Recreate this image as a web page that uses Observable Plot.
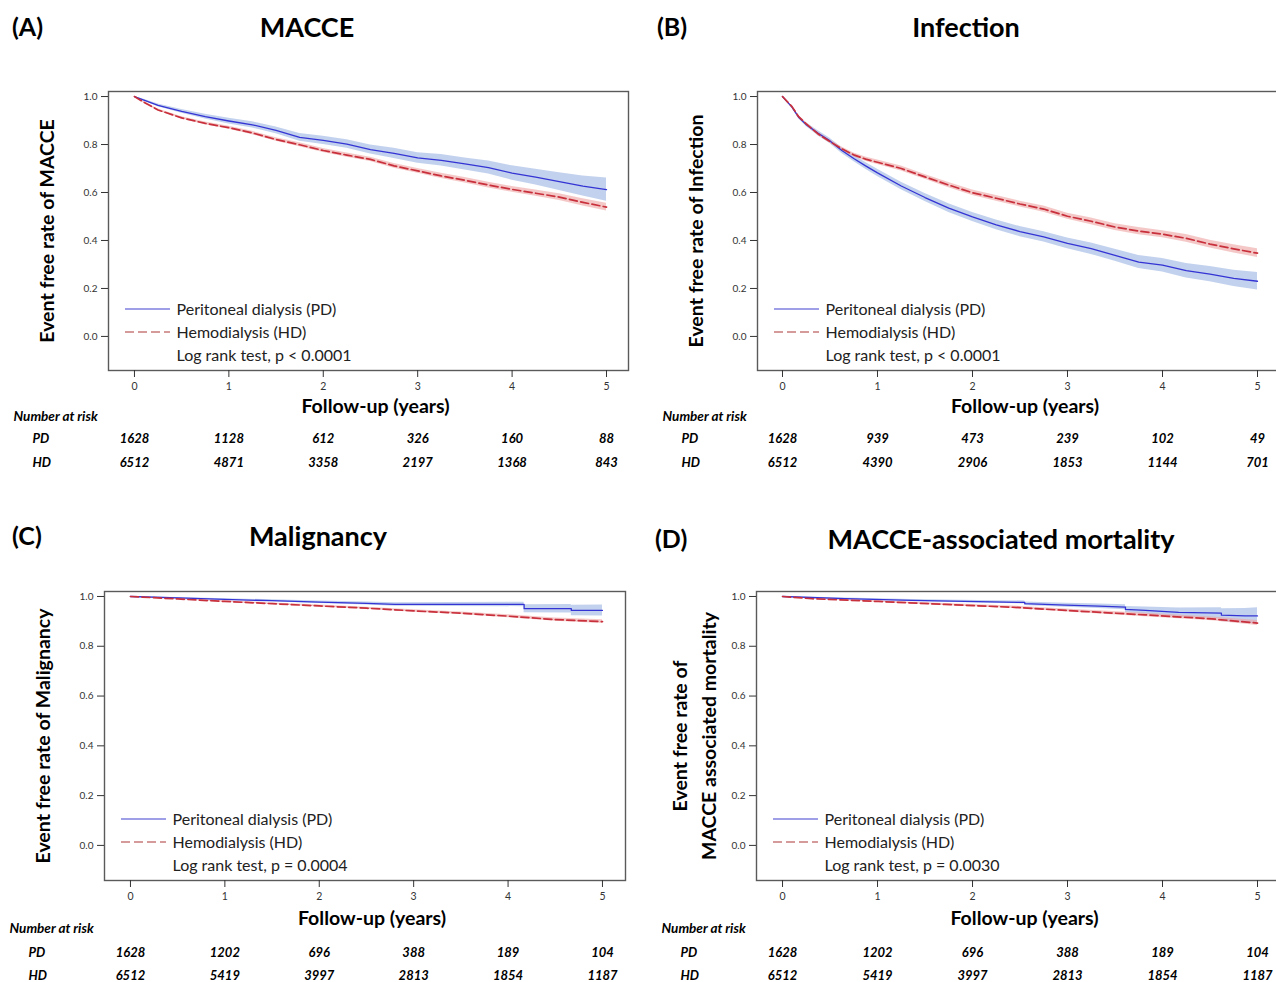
<!DOCTYPE html>
<html><head><meta charset="utf-8">
<script src="https://cdn.jsdelivr.net/npm/d3@7"></script>
<script src="https://cdn.jsdelivr.net/npm/@observablehq/plot@0.6"></script>
<style>
html,body{margin:0;padding:0;background:#fff;overflow:hidden;}
#root{position:relative;width:1276px;height:982px;overflow:hidden;font-family:Lato,"Open Sans",sans-serif;color:#000;}
.panel{position:absolute;}
.panel svg{max-width:none !important;display:block;}
.tag{position:absolute;font-weight:bold;font-size:25px;line-height:1;transform:translateY(-50%);white-space:nowrap;}
.title{position:absolute;font-weight:bold;font-size:27px;line-height:1;transform:translate(-50%,-50%);white-space:nowrap;}
</style></head><body><div id="root"></div>
<script>
// ---------- shared categories / ticks ----------
const groups = ["PD", "HD"];
const legendLabels = ["Peritoneal dialysis (PD)", "Hemodialysis (HD)"];
const xTicks = [0, 1, 2, 3, 4, 5];
const yTicks = [0, 0.2, 0.4, 0.6, 0.8, 1.0];
const riskYears = [0, 1, 2, 3, 4, 5];

// ---------- (A) MACCE ----------
const aTime = [0, 0.1, 0.25, 0.5, 0.75, 1.0, 1.25, 1.5, 1.75, 2.0, 2.25, 2.5, 2.75, 3.0, 3.25, 3.5, 3.75, 4.0, 4.25, 4.5, 4.75, 5.0];
const aPD   = [1.0, 0.985, 0.963, 0.938, 0.916, 0.898, 0.882, 0.859, 0.830, 0.817, 0.802, 0.779, 0.763, 0.744, 0.734, 0.719, 0.704, 0.681, 0.664, 0.645, 0.627, 0.612];
const aPDlo = [1.0, 0.981, 0.957, 0.930, 0.906, 0.886, 0.869, 0.845, 0.814, 0.800, 0.784, 0.760, 0.742, 0.722, 0.710, 0.694, 0.677, 0.651, 0.631, 0.608, 0.585, 0.564];
const aPDhi = [1.0, 0.989, 0.969, 0.946, 0.926, 0.910, 0.895, 0.873, 0.846, 0.834, 0.820, 0.798, 0.784, 0.766, 0.758, 0.744, 0.731, 0.711, 0.697, 0.682, 0.669, 0.660];
const aHD   = [1.0, 0.976, 0.944, 0.911, 0.888, 0.870, 0.848, 0.821, 0.799, 0.775, 0.756, 0.738, 0.711, 0.690, 0.669, 0.651, 0.631, 0.613, 0.597, 0.581, 0.559, 0.539];
const aHDlo = [1.0, 0.973, 0.940, 0.906, 0.882, 0.864, 0.841, 0.814, 0.791, 0.767, 0.747, 0.729, 0.701, 0.680, 0.658, 0.640, 0.619, 0.601, 0.584, 0.567, 0.544, 0.523];
const aHDhi = [1.0, 0.979, 0.948, 0.916, 0.894, 0.876, 0.855, 0.828, 0.807, 0.783, 0.765, 0.747, 0.721, 0.700, 0.680, 0.662, 0.643, 0.625, 0.610, 0.595, 0.574, 0.555];
const aRiskPD = [1628, 1128, 612, 326, 160, 88];
const aRiskHD = [6512, 4871, 3358, 2197, 1368, 843];

// ---------- (B) Infection ----------
const bTime = [0, 0.1, 0.17, 0.25, 0.375, 0.5, 0.625, 0.75, 0.875, 1.0, 1.25, 1.5, 1.75, 2.0, 2.25, 2.5, 2.75, 3.0, 3.25, 3.5, 3.75, 4.0, 4.25, 4.5, 4.75, 5.0];
const bPD   = [1.0, 0.956, 0.914, 0.883, 0.847, 0.815, 0.775, 0.742, 0.711, 0.682, 0.627, 0.579, 0.535, 0.498, 0.465, 0.437, 0.415, 0.388, 0.366, 0.338, 0.310, 0.297, 0.274, 0.260, 0.242, 0.230];
const bPDlo = [1.0, 0.951, 0.907, 0.875, 0.837, 0.804, 0.763, 0.729, 0.697, 0.667, 0.611, 0.562, 0.517, 0.479, 0.445, 0.416, 0.394, 0.366, 0.342, 0.313, 0.283, 0.269, 0.244, 0.228, 0.208, 0.194];
const bPDhi = [1.0, 0.961, 0.921, 0.891, 0.857, 0.826, 0.787, 0.755, 0.725, 0.697, 0.643, 0.596, 0.553, 0.517, 0.485, 0.458, 0.436, 0.410, 0.390, 0.363, 0.337, 0.325, 0.304, 0.292, 0.276, 0.266];
const bHD   = [1.0, 0.958, 0.916, 0.886, 0.844, 0.812, 0.782, 0.757, 0.739, 0.726, 0.700, 0.665, 0.631, 0.599, 0.576, 0.552, 0.531, 0.501, 0.480, 0.456, 0.439, 0.426, 0.409, 0.385, 0.365, 0.347];
const bHDlo = [1.0, 0.954, 0.911, 0.880, 0.837, 0.805, 0.774, 0.749, 0.730, 0.717, 0.690, 0.655, 0.620, 0.588, 0.564, 0.540, 0.518, 0.488, 0.466, 0.442, 0.424, 0.411, 0.393, 0.369, 0.348, 0.329];
const bHDhi = [1.0, 0.962, 0.921, 0.892, 0.851, 0.819, 0.790, 0.765, 0.748, 0.735, 0.710, 0.675, 0.642, 0.610, 0.588, 0.564, 0.544, 0.514, 0.494, 0.470, 0.454, 0.441, 0.425, 0.401, 0.382, 0.365];
const bRiskPD = [1628, 939, 473, 239, 102, 49];
const bRiskHD = [6512, 4390, 2906, 1853, 1144, 701];

// ---------- (C) Malignancy ----------
const cPDTime = [0, 0.5, 1.0, 1.5, 2.0, 2.5, 2.8, 4.17, 4.17, 4.67, 4.67, 5.0];
const cPD   = [1.0, 0.994, 0.988, 0.983, 0.977, 0.972, 0.968, 0.968, 0.951, 0.951, 0.944, 0.944];
const cPDlo = [1.0, 0.992, 0.985, 0.979, 0.972, 0.966, 0.961, 0.959, 0.935, 0.934, 0.923, 0.922];
const cPDhi = [1.0, 0.996, 0.991, 0.987, 0.982, 0.978, 0.975, 0.977, 0.967, 0.968, 0.965, 0.966];
const cHDTime = [0, 0.5, 1.0, 1.5, 2.0, 2.5, 3.0, 3.5, 4.0, 4.5, 5.0];
const cHD   = [1.0, 0.990, 0.980, 0.971, 0.962, 0.953, 0.942, 0.933, 0.921, 0.907, 0.899];
const cHDlo = [1.0, 0.988, 0.977, 0.968, 0.958, 0.949, 0.937, 0.928, 0.915, 0.900, 0.891];
const cHDhi = [1.0, 0.992, 0.983, 0.974, 0.966, 0.957, 0.947, 0.938, 0.927, 0.914, 0.907];
const cRiskPD = [1628, 1202, 696, 388, 189, 104];
const cRiskHD = [6512, 5419, 3997, 2813, 1854, 1187];

// ---------- (D) MACCE-associated mortality ----------
const dPDTime = [0, 0.66, 1.36, 2.06, 2.55, 2.55, 2.98, 3.33, 3.61, 3.61, 3.82, 4.17, 4.62, 4.62, 4.87, 5.0];
const dPD   = [1.0, 0.991, 0.984, 0.979, 0.976, 0.971, 0.965, 0.961, 0.957, 0.948, 0.944, 0.936, 0.933, 0.925, 0.922, 0.922];
const dPDlo = [1.0, 0.988, 0.980, 0.974, 0.970, 0.964, 0.957, 0.952, 0.947, 0.936, 0.930, 0.918, 0.911, 0.899, 0.892, 0.889];
const dPDhi = [1.0, 0.994, 0.988, 0.984, 0.982, 0.978, 0.973, 0.970, 0.967, 0.960, 0.958, 0.954, 0.955, 0.951, 0.952, 0.955];
const dHDTime = [0, 0.31, 1.01, 1.71, 2.41, 3.12, 3.82, 4.52, 5.0];
const dHD   = [1.0, 0.991, 0.980, 0.968, 0.957, 0.941, 0.926, 0.910, 0.893];
const dHDlo = [1.0, 0.989, 0.977, 0.964, 0.952, 0.935, 0.919, 0.902, 0.883];
const dHDhi = [1.0, 0.993, 0.983, 0.972, 0.962, 0.947, 0.933, 0.918, 0.903];
const dRiskPD = [1628, 1202, 696, 388, 189, 104];
const dRiskHD = [6512, 5419, 3997, 2813, 1854, 1187];

// ---------- texts ----------
const panelTags = ["(A)", "(B)", "(C)", "(D)"];
const panelTitles = ["MACCE", "Infection", "Malignancy", "MACCE-associated mortality"];
const yLabels = ["Event free rate of MACCE", "Event free rate of Infection", "Event free rate of Malignancy", "Event free rate of\nMACCE associated mortality"];
const pTexts = ["Log rank test, p < 0.0001", "Log rank test, p < 0.0001", "Log rank test, p = 0.0004", "Log rank test, p = 0.0030"];
const xLabel = "Follow-up (years)";
const riskHeading = "Number at risk";

// ---------- assemble series (from arrays above) ----------
function rows(t, v, lo, hi) { return t.map((d, i) => ({t: d, v: v[i], lo: lo[i], hi: hi[i]})); }
const series = [
  {pd: rows(aTime, aPD, aPDlo, aPDhi), hd: rows(aTime, aHD, aHDlo, aHDhi), riskPD: aRiskPD, riskHD: aRiskHD},
  {pd: rows(bTime, bPD, bPDlo, bPDhi), hd: rows(bTime, bHD, bHDlo, bHDhi), riskPD: bRiskPD, riskHD: bRiskHD},
  {pd: rows(cPDTime, cPD, cPDlo, cPDhi), hd: rows(cHDTime, cHD, cHDlo, cHDhi), riskPD: cRiskPD, riskHD: cRiskHD},
  {pd: rows(dPDTime, dPD, dPDlo, dPDhi), hd: rows(dHDTime, dHD, dHDlo, dHDhi), riskPD: dRiskPD, riskHD: dRiskHD}
];

// ---------- layout (positions only) ----------
const layout = [
  {left: 0,   top: 80,  w: 640, h: 410, ml: 108, mr: 12, mt: 11, mb: 120, xd: [-0.275, 5.233], yd: [-0.142, 1.021], tag: [12, 26],  title: [307, 26],  nar: [46, 68, 92],  xl: 36},
  {left: 640, top: 80,  w: 640, h: 410, ml: 117, mr: 2,  mt: 11, mb: 120, xd: [-0.263, 5.221], yd: [-0.142, 1.021], tag: [657, 26], title: [966, 26],  nar: [46, 68, 92],  xl: 36},
  {left: 0,   top: 580, w: 640, h: 402, ml: 104, mr: 15, mt: 11, mb: 102, xd: [-0.275, 5.244], yd: [-0.141, 1.020], tag: [12, 535], title: [318, 535], nar: [48, 72, 95],  xl: 38},
  {left: 640, top: 580, w: 640, h: 402, ml: 116, mr: 2,  mt: 11, mb: 102, xd: [-0.274, 5.221], yd: [-0.141, 1.020], tag: [655, 538], title: [1001, 538], nar: [48, 72, 95], xl: 38}
];

const FONT = "Lato, 'Open Sans', sans-serif";
const BLUE = "#3434d4", RED = "#c8303c";

function legendLines() {
  return (index, scales, values, dims) => {
    const g = d3.create("svg:g");
    const x0 = dims.marginLeft + 17, x1 = dims.marginLeft + 62;
    const yb = dims.height - dims.marginBottom;
    g.append("line").attr("x1", x0).attr("x2", x1).attr("y1", yb - 61).attr("y2", yb - 61)
      .attr("stroke", "#7f7fe0").attr("stroke-width", 1.5);
    g.append("line").attr("x1", x0).attr("x2", x1).attr("y1", yb - 38).attr("y2", yb - 38)
      .attr("stroke", "#c87a7a").attr("stroke-width", 1.5).attr("stroke-dasharray", "9,4");
    return g.node();
  };
}

const M = {lineAnchor: "middle"};
const root = document.getElementById("root");
layout.forEach((L, k) => {
  const S = series[k];
  const svg = Plot.plot({
    width: L.w, height: L.h,
    marginLeft: L.ml, marginRight: L.mr, marginTop: L.mt, marginBottom: L.mb,
    x: {domain: L.xd},
    y: {domain: L.yd},
    style: {fontFamily: FONT, fontSize: "10px", background: "transparent", overflow: "visible", color: "#000", maxWidth: "none"},
    marks: [
      Plot.areaY(S.pd, {x: "t", y1: "lo", y2: "hi", fill: "#a8bde6", fillOpacity: 0.7}),
      Plot.areaY(S.hd, {x: "t", y1: "lo", y2: "hi", fill: "#eea3a3", fillOpacity: 0.6}),
      Plot.lineY(S.pd, {x: "t", y: "v", stroke: BLUE, strokeWidth: 1.3}),
      Plot.lineY(S.hd, {x: "t", y: "v", stroke: RED, strokeWidth: 1.7, strokeDasharray: "8,3.5"}),
      Plot.frame({stroke: "#5a5a5a", strokeWidth: 1.4}),
      Plot.axisX({ticks: xTicks, tickFormat: d3.format("d"), tickSize: 7, tickPadding: 5, label: null, color: "#333", fontSize: 10.5}),
      Plot.axisY({ticks: yTicks, tickFormat: d3.format(".1f"), tickSize: 7, tickPadding: 4, label: null, color: "#333", fontSize: 10}),
      legendLines(),
      Plot.text([legendLabels[0]], {...M, frameAnchor: "bottom-left", dx: 68, dy: -61, textAnchor: "start", fontSize: 16, fill: "#222"}),
      Plot.text([legendLabels[1]], {...M, frameAnchor: "bottom-left", dx: 68, dy: -38, textAnchor: "start", fontSize: 16, fill: "#222"}),
      Plot.text([pTexts[k]], {...M, frameAnchor: "bottom-left", dx: 68, dy: -15, textAnchor: "start", fontSize: 16, fill: "#222"}),
      Plot.text([yLabels[k]], {...M, frameAnchor: "left", textAnchor: "middle", dx: -64, rotate: -90, fontSize: 19.5, fontWeight: "bold", lineHeight: 1.45, fill: "#000"}),
      Plot.text([xLabel], {...M, frameAnchor: "bottom", textAnchor: "middle", dx: 7, dy: L.xl, fontSize: 19.5, fontWeight: "bold", fill: "#000"}),
      Plot.text([riskHeading], {...M, frameAnchor: "bottom-left", dx: -95, dy: L.nar[0], textAnchor: "start", fontSize: 13.5, fontWeight: "bold", fontStyle: "italic", fill: "#000", ariaLabel: "nar-head"}),
      Plot.text([groups[0]], {...M, frameAnchor: "bottom-left", dx: -76, dy: L.nar[1], textAnchor: "start", fontSize: 13, fontWeight: "bold", fontStyle: "italic", fill: "#000"}),
      Plot.text([groups[1]], {...M, frameAnchor: "bottom-left", dx: -76, dy: L.nar[2], textAnchor: "start", fontSize: 13, fontWeight: "bold", fontStyle: "italic", fill: "#000"}),
      Plot.text(S.riskPD, {...M, x: riskYears, text: d => String(d), frameAnchor: "bottom", textAnchor: "middle", dy: L.nar[1], fontSize: 13, fontWeight: "bold", fontStyle: "italic", fill: "#000"}),
      Plot.text(S.riskHD, {...M, x: riskYears, text: d => String(d), frameAnchor: "bottom", textAnchor: "middle", dy: L.nar[2], fontSize: 13, fontWeight: "bold", fontStyle: "italic", fill: "#000"})
    ]
  });
  d3.select(svg).selectAll('g[aria-label="nar-head"] text').attr("text-decoration", "underline");
  const wrap = document.createElement("div");
  wrap.className = "panel";
  wrap.style.left = L.left + "px";
  wrap.style.top = L.top + "px";
  wrap.style.width = L.w + "px";
  wrap.style.height = L.h + "px";
  wrap.appendChild(svg);
  root.appendChild(wrap);

  const tag = document.createElement("div");
  tag.className = "tag";
  tag.textContent = panelTags[k];
  tag.style.left = L.tag[0] + "px";
  tag.style.top = L.tag[1] + "px";
  root.appendChild(tag);

  const title = document.createElement("div");
  title.className = "title";
  title.textContent = panelTitles[k];
  title.style.left = L.title[0] + "px";
  title.style.top = L.title[1] + "px";
  root.appendChild(title);
});
</script>
</body></html>
